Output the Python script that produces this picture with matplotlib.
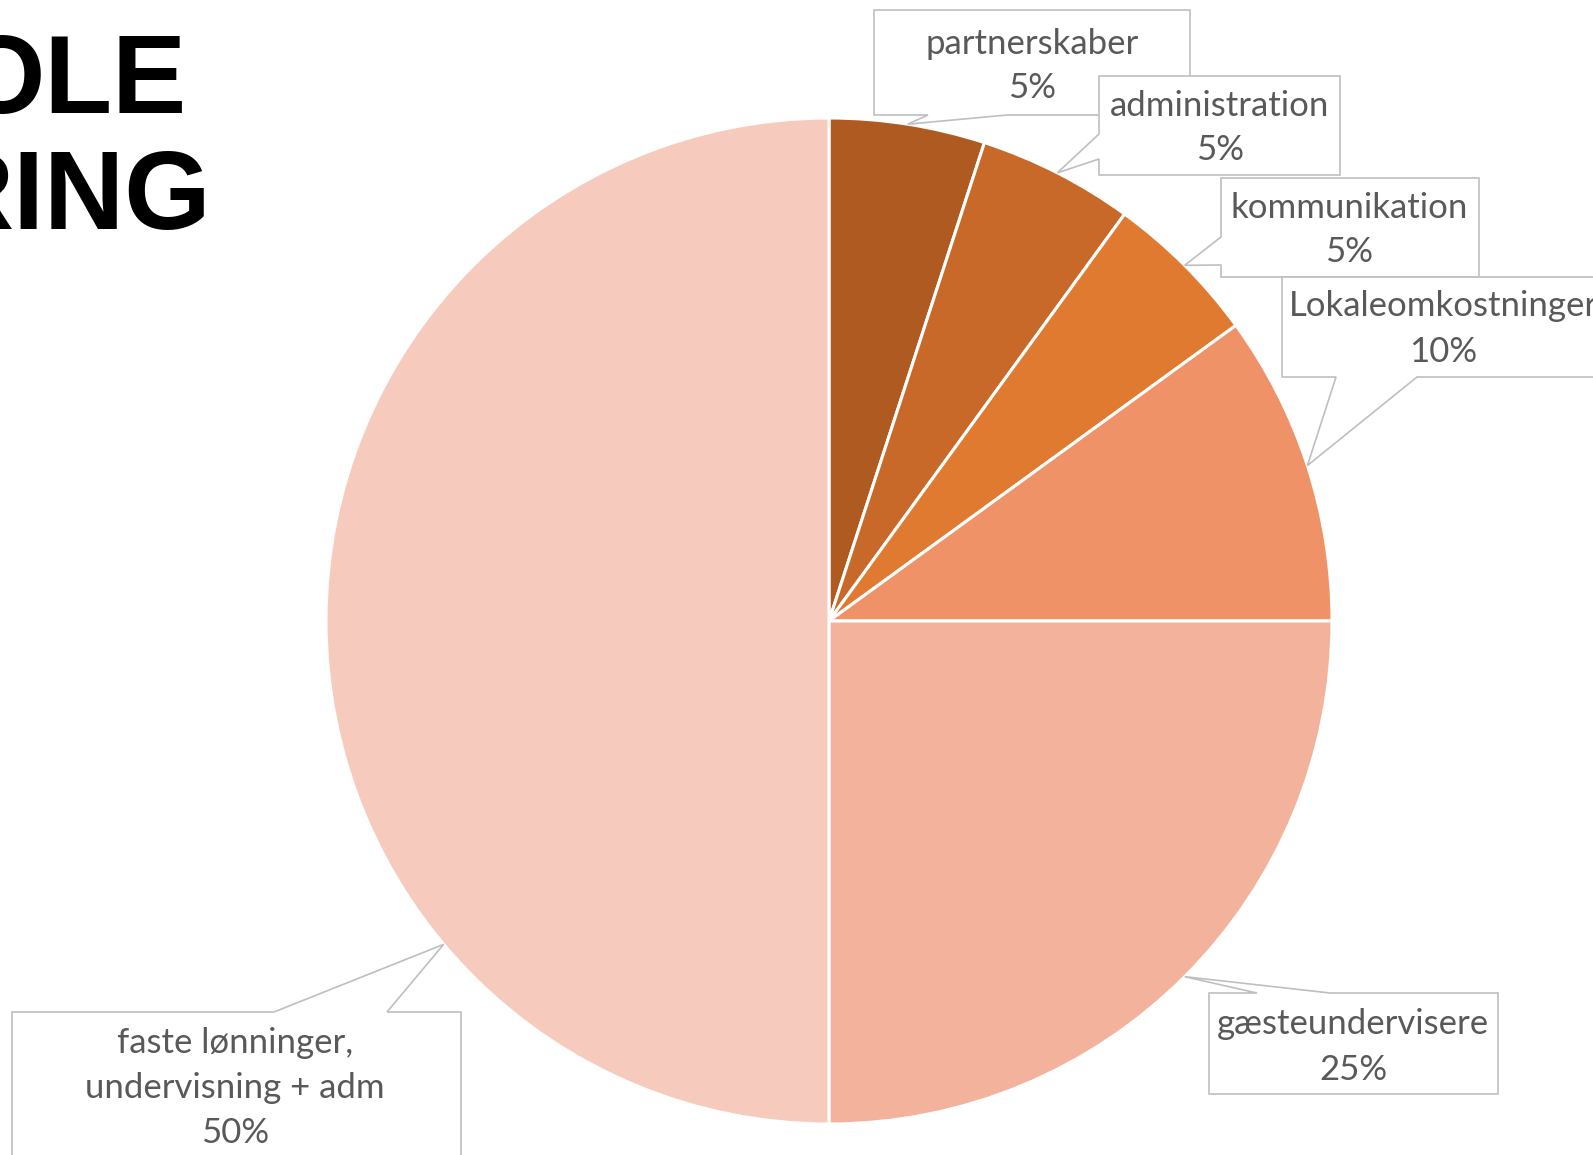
import numpy as np
import matplotlib
matplotlib.use('Agg')
import matplotlib.pyplot as plt
from matplotlib.patches import Polygon

# budget shares (percent), clockwise from 12 o'clock
labels = ['partnerskaber', 'administration', 'kommunikation',
          'Lokaleomkostninger', 'gæsteundervisere',
          'faste lønninger,\nundervisning + adm']
values = [5, 5, 5, 10, 25, 50]
colors = ['#AE5A21', '#C8692A', '#E07A30', '#F09268', '#F3B29B', '#F6CBBE']

W, H = 1593, 1155
cx, cy, R = 829, 621, 503   # pie centre / radius in image pixels

def fy(y):
    # image y (top-down) -> data y (bottom-up)
    return H - y

fig = plt.figure(figsize=(W / 100, H / 100), dpi=100)
ax = fig.add_axes([0, 0, 1, 1])

ax.pie(values, colors=colors, startangle=90, counterclock=False,
       center=(cx, fy(cy)), radius=R, frame=True,
       wedgeprops=dict(edgecolor='white', linewidth=2.2))
ax.set_xlim(0, W)
ax.set_ylim(0, H)
ax.set_aspect('equal')
ax.axis('off')

# title (cut off at the left edge of the slide)
ax.text(187, fy(113), 'OLE', ha='right', va='baseline', fontsize=80,
        fontweight='bold', family='Liberation Sans', color='black')
ax.text(211, fy(229), 'RING', ha='right', va='baseline', fontsize=80,
        fontweight='bold', family='Liberation Sans', color='black')

# angle (deg clockwise from top) where each callout points at the pie
cum = np.cumsum([0] + values)
tip_ang = list((cum[:-1] + cum[1:]) / 2 / 100 * 360)
tip_ang[5] = 230  # the big slice's callout points towards its box

# callout layout: box (x0, y0, x1, y1), side of pointer, base range, text centre
boxes = [
    ((874, 10, 1190, 115), 'bottom', (928, 1007), (1032, 66)),
    ((1099, 76, 1340, 175), 'left', (134, 159), (1220, 128)),
    ((1221, 178, 1479, 277), 'left', (237, 265), (1349, 230)),
    ((1282, 277, 1650, 377), 'bottom', (1336, 1417), (1443, 329)),
    ((1209, 993, 1498, 1094), 'top', (1257, 1330), (1353, 1047)),
    ((12, 1012, 461, 1200), 'top', (274, 387), (235, 1088)),
]

for i, (box, side, base, tc) in enumerate(boxes):
    x0, y0, x1, y1 = box
    a = np.radians(tip_ang[i])
    tip = (cx + R * np.sin(a), cy - R * np.cos(a))
    b1, b2 = base
    if side == 'top':
        pts = [(x0, y0), (b1, y0), tip, (b2, y0), (x1, y0), (x1, y1), (x0, y1)]
    elif side == 'bottom':
        pts = [(x0, y0), (x1, y0), (x1, y1), (b2, y1), tip, (b1, y1), (x0, y1)]
    else:  # left
        pts = [(x0, y0), (x1, y0), (x1, y1), (x0, y1), (x0, b2), tip, (x0, b1)]
    pts = [(px, fy(py)) for px, py in pts]
    ax.add_patch(Polygon(pts, closed=True, facecolor='white',
                         edgecolor='#BFBFBF', linewidth=1.2, zorder=3 + i))
    ax.text(tc[0], fy(tc[1]), f'{labels[i]}\n{values[i]}%', ha='center',
            va='center', fontsize=25, family='Lato', color='#595959',
            linespacing=1.5, zorder=3 + i)

fig.savefig('out.png', dpi=100)
